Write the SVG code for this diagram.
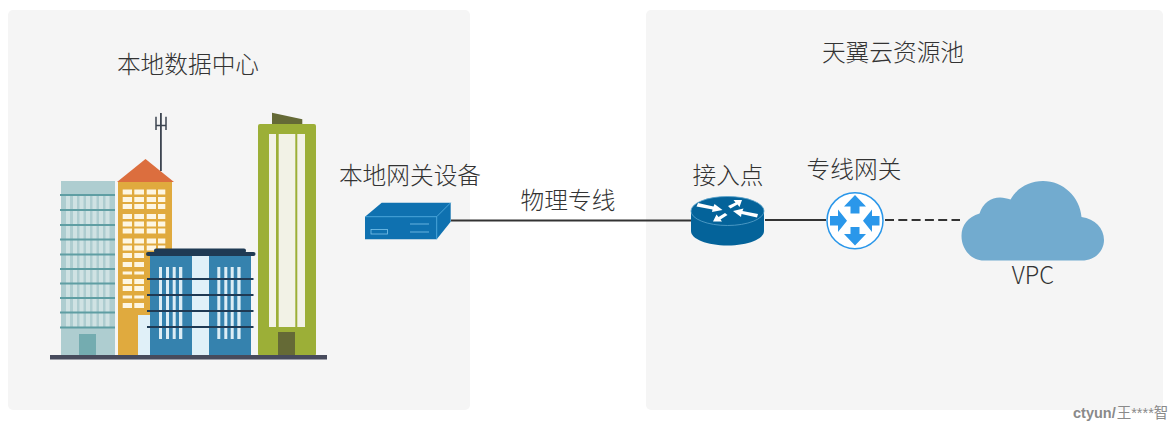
<svg xmlns="http://www.w3.org/2000/svg" width="1172" height="421" viewBox="0 0 1172 421">
<style>
.panel{fill:#f5f5f5}
.t{font-family:"Noto Sans CJK SC","Noto Sans",sans-serif;font-size:23.700px;font-weight:300;fill:#333;text-anchor:middle}
.ln{stroke:#333;stroke-width:1.800;fill:none}
.ltl{fill:#5f9ea3}
.w{fill:#fdf6e3}
.bw{fill:#dcedf5}
.bl{fill:#1f3a54}
.ar{fill:#2a97ea}
.rw{fill:#fff}
</style>
<rect width="1172" height="421" fill="#fff"/>
<g id="panel-local"><rect class="panel" x="8" y="10" width="462" height="400" rx="5"/><text class="t" x="188" y="73">本地数据中心</text></g>
<g id="panel-cloud"><rect class="panel" x="646" y="10" width="517" height="400" rx="5"/><text class="t" x="893" y="61">天翼云资源池</text></g>
<g id="connectors">
<path class="ln" d="M451 220.500H691"/>
<path class="ln" d="M765 220H826"/>
<path class="ln" d="M885 220H960" stroke-dasharray="9 4.300"/>
<text class="t" x="568" y="209">物理专线</text>
</g>
<g id="buildings">
<rect x="61" y="181" width="54" height="176" fill="#aecdd0"/>
<path fill="#cfe2e3" d="M66 195h4v132h-4zM73 195h4v132h-4zM79.500 195h4v132h-4zM86 195h4v132h-4zM92.500 195h4v132h-4zM99 195h4v132h-4zM105.500 195h4v132h-4z"/>
<path class="ltl" d="M60 194h55v2H60zM60 209h55v2H60zM60 224h55v2H60zM60 238.500h55v2H60zM60 253.500h55v2H60zM60 268h55v2H60zM60 282.500h55v2H60zM60 297h55v2H60zM60 311.500h55v2H60zM60 326.500h55v2H60z"/>
<rect x="79" y="334" width="17" height="23" fill="#74acb0"/>
<rect x="160" y="113" width="1.800" height="58" fill="#3c4450"/>
<path d="M156 116.700V130M166 116.700V130M156 125.500H166" stroke="#3c4450" stroke-width="1.500" fill="none"/>
<rect x="118" y="182" width="54" height="174" fill="#e0aa3e"/>
<path d="M117 182L145.500 159L174 182Z" fill="#dc6e3e"/>
<g class="w">
<path d="M122.700 189.500h9.300v5h-9.300zM134.300 189.500h9.700v5h-9.700zM146.700 189.500h9.300v5h-9.300zM158 189.500h7.300v5h-7.300z"/>
<path d="M122.700 197h9.300v5h-9.300zM134.300 197h9.700v5h-9.700zM146.700 197h9.300v5h-9.300zM158 197h7.300v5h-7.300z"/>
<path d="M122.700 204h9.300v5h-9.300zM134.300 204h9.700v5h-9.700zM146.700 204h9.300v5h-9.300zM158 204h7.300v5h-7.300z"/>
<path d="M122.700 214h9.300v5h-9.300zM134.300 214h9.700v5h-9.700zM146.700 214h9.300v5h-9.300zM158 214h7.300v5h-7.300z"/>
<path d="M122.700 221.500h9.300v5h-9.300zM134.300 221.500h9.700v5h-9.700zM146.700 221.500h9.300v5h-9.300zM158 221.500h7.300v5h-7.300z"/>
<path d="M122.700 228.500h9.300v5h-9.300zM134.300 228.500h9.700v5h-9.700zM146.700 228.500h9.300v5h-9.300zM158 228.500h7.300v5h-7.300z"/>
<path d="M122.700 238.500h9.300v5h-9.300zM134.300 238.500h9.700v5h-9.700zM146.700 238.500h9.300v5h-9.300zM158 238.500h7.300v5h-7.300z"/>
<path d="M122.700 245.500h9.300v5h-9.300zM134.300 245.500h9.700v5h-9.700zM146.700 245.500h9.300v5h-9.300zM158 245.500h7.300v3h-7.300z"/>
<path d="M122.700 253h9.300v5h-9.300zM134.300 253h9.700v5h-9.700z"/>
<path d="M122.700 262h9.300v5h-9.300zM134.300 262h9.700v5h-9.700z"/>
<path d="M122.700 271.500h9.300v3h-9.300zM134.300 271.500h9.700v3h-9.700z"/>
<path d="M122.700 279h9.300v5h-9.300zM134.300 279h9.700v5h-9.700z"/>
<path d="M122.700 286h9.300v5h-9.300zM134.300 286h9.700v5h-9.700z"/>
<path d="M122.700 295.500h9.300v3h-9.300zM134.300 295.500h9.700v3h-9.700z"/>
<path d="M122.700 303h9.300v5h-9.300zM134.300 303h9.700v5h-9.700z"/>
</g>
<rect x="138" y="315" width="12" height="41" fill="#e0f0f8"/>
<rect x="150" y="256" width="101" height="100" fill="#3582ae"/>
<rect x="192" y="256" width="17" height="100" fill="#e0f0f8"/>
<rect class="bl" x="154" y="248.500" width="92" height="4.500" rx="2"/>
<rect class="bl" x="146" y="252" width="109.500" height="4" rx="2"/>
<path class="bw" d="M159 267h3v72h-3zM166 267h3v72h-3zM172.700 267h3v72h-3zM179 267h3.300v72H179zM217.300 267h3v72h-3zM224.300 267h3v72h-3zM230.700 267h3v72h-3zM237.300 267h3.300v72h-3.300z"/>
<path class="bl" d="M147 278h106.500v2H147zM147 294h106.500v2H147zM147 310h106.500v2H147zM147 326h106.500v2H147z"/>
<rect x="258" y="124" width="58" height="232" rx="2" fill="#9caf37"/>
<path d="M272 112.700L302.300 119.300V124H272Z" fill="#656a36"/>
<path fill="#f2f2e6" d="M269 134h7v193h-7zM278.700 134h16.600v193h-16.600zM297.300 134h7.700v193h-7.700z"/>
<rect x="278" y="332" width="17" height="24" fill="#656a36"/>
<rect x="50" y="355" width="277" height="4.500" fill="#474b5c"/>
</g>
<g id="gateway-device">
<text class="t" x="410" y="184">本地网关设备</text>
<path d="M365 216.700L381.700 202.700H450.700V221.700L436.700 239.300H365Z" fill="#0f71b0"/>
<path d="M365 216.700H436.700V239.300M436.700 216.700L450.700 202.700" fill="none" stroke="#5bb2e3" stroke-width="0.800"/>
<rect x="371" y="229.500" width="16.500" height="4.500" fill="none" stroke="#7cc4ec" stroke-width="0.800"/>
<path d="M410 224h19M410 232h19" stroke="#7cc4ec" stroke-width="0.800"/>
</g>
<g id="access-point">
<text class="t" x="728" y="184">接入点</text>
<path d="M691 211V231C691 239 707 245.500 727.500 245.500S764 239 764 231V211Z" fill="#04639a"/>
<ellipse cx="727.500" cy="211" rx="36.500" ry="14.500" fill="#04639a" stroke="#5aa3cc" stroke-width="0.800"/>
<path class="rw" d="M696.500 206.500L698 203L713.500 206.500L714.500 204L722.500 210L712 212L712.500 209.500Z"/>
<path class="rw" d="M758 214L757 217.500L741.500 214L741 217L733 211L743.500 208.500L742.500 211Z"/>
<path class="rw" d="M742 200L739.500 207L737.500 204.500L730.500 208.500L728 206L735.500 202.500L733.500 200Z"/>
<path class="rw" d="M713 221.500L716.500 214.500L718.500 217L725 213L727.500 215L720.500 219.500L722 221.500Z"/>
</g>
<g id="direct-gateway">
<text class="t" x="854" y="178">专线网关</text>
<circle cx="855" cy="220.700" r="28" fill="#fff" stroke="#2a97ea" stroke-width="1.500"/>
<path class="ar" d="M855 195L866 206.500H859.500V213.500H850.500V206.500H844Z"/>
<path class="ar" d="M855 245.500L866 234H859.500V227H850.500V234H844Z"/>
<path class="ar" d="M847 220.700L838 209.500V216H830V225.500H838V232Z"/>
<path class="ar" d="M863 220.700L872 209.500V216H879.500V225.500H872V232Z"/>
</g>
<g id="vpc">
<path d="M984 260.500C970 260.500 961.500 248 961.500 236C961.500 225 968 217 979.500 213.500C983 203 991 197.500 1000 197.500C1004 197.500 1007 198.500 1010.500 199.500C1017 188 1029 181 1043 181C1063 181 1080 197 1081.500 217C1095 219 1104 228 1104 240C1104 251 1095 260.500 1082 260.500Z" fill="#72abcf"/>
<text class="t" x="1033" y="284">VPC</text>
</g>
<text x="1073" y="418" font-family="'Liberation Sans','Noto Sans CJK SC',sans-serif" font-size="14.500" font-weight="bold" fill="#8a8a8a">ctyun/<tspan font-weight="normal" dx="1">王****智</tspan></text>
</svg>
